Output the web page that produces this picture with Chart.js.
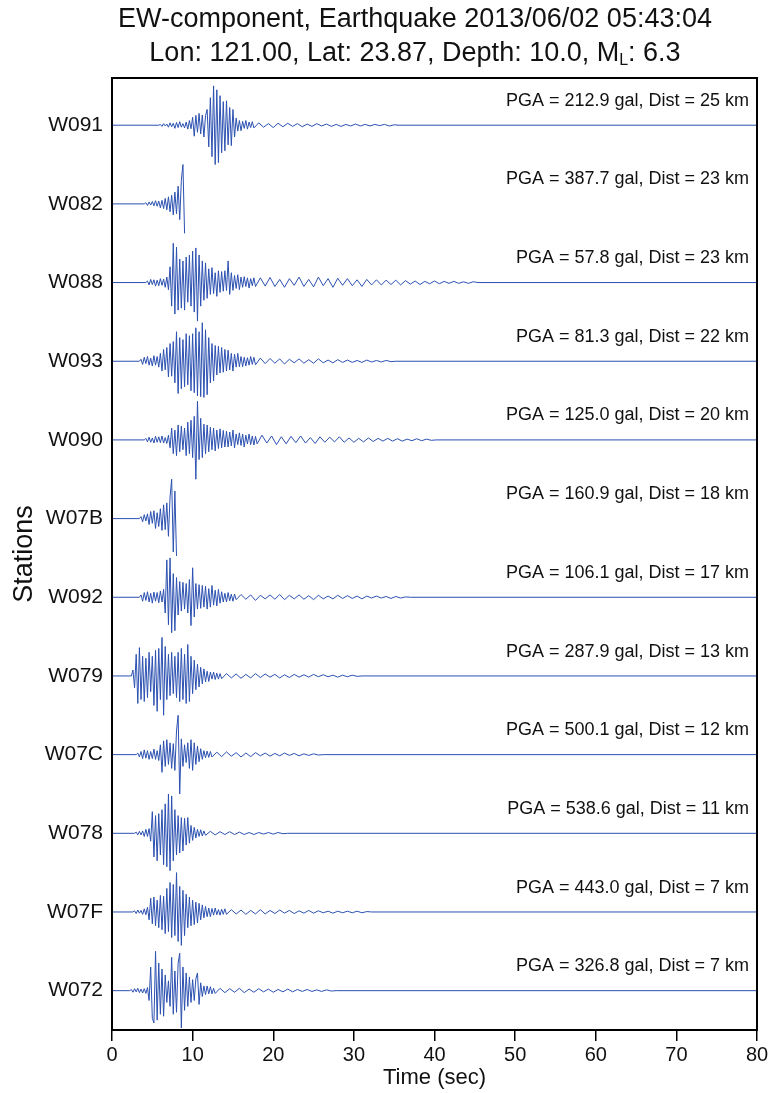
<!DOCTYPE html>
<html>
<head>
<meta charset="utf-8">
<script src="https://cdn.jsdelivr.net/npm/chart.js@4.4.1/dist/chart.umd.min.js"></script>
<style>
  html, body { margin: 0; padding: 0; background: #fff; }
  #wrap { position: relative; width: 771px; height: 1093px; }
  #title {
    position: absolute; top: 1px; left: 415px; transform: translateX(-50%);
    white-space: nowrap; text-align: center; color: #111;
    font-family: "Liberation Sans", Arial, sans-serif; font-size: 27px; line-height: 34px;
  }
  #title sub { font-size: 16px; vertical-align: -4px; line-height: 0; }
</style>
</head>
<body>
<div id="wrap">
  <canvas id="chart" width="771" height="1093"></canvas>
  <div id="title">EW-component, Earthquake 2013/06/02 05:43:04<br>Lon: 121.00, Lat: 23.87, Depth: 10.0, M<sub>L</sub>: 6.3</div>
</div>
<script>
// === EW-component records, one trace per station ===

const stations = ["W091", "W082", "W088", "W093", "W090", "W07B", "W092", "W079", "W07C", "W078", "W07F", "W072"];
const pga      = [212.9, 387.7, 57.8, 81.3, 125.0, 160.9, 106.1, 287.9, 500.1, 538.6, 443.0, 326.8];
const dist     = [25, 23, 23, 22, 20, 18, 17, 13, 12, 11, 7, 7];

// time (sec) where each trace leaves the flat pre-event line
const onset    = [5.8, 4.0, 4.2, 3.4, 4.0, 3.4, 3.4, 2.4, 3.0, 2.8, 2.6, 2.2];
// null = record stops after its last sample
const traceEnd = [80, null, 80, 80, 80, null, 80, 80, 80, 80, 80, 80];
const timeTicks = [0, 10, 20, 30, 40, 50, 60, 70, 80];

// strong-motion part, one sample every 0.2 s, % of each trace's peak
const w091Burst = [2,-3,4,-2,3,-5,6,-4,5,-8,7,-6,9,-5,4,-7,8,-10,12,-9,20,-28,25,-18,30,-22,26,-30,24,40,-55,70,-80,100,-100,90,-95,75,-70,60,-65,62,-50,45,-52,40,-30,18,-15,12,-14,10,-8,12,-10,8,-6,9,-7];
const w082Burst = [3,-4,5,-3,6,-5,8,-6,7,-10,9,-12,14,-15,18,-20,22,-28,30,-25,45,-40,60,100,-75];
const w088Burst = [4,-6,8,-5,7,-9,6,-8,10,-7,9,-12,14,-18,40,-60,100,-80,90,-70,60,-65,55,-70,65,-50,70,-60,80,-75,88,-98,70,-60,55,-45,50,-40,35,-30,38,-28,25,-35,30,-25,28,-22,30,-20,55,-30,25,-20,18,-15,20,-18,14,-12,15,-10,12,-14,10,-8,12,-10];
const w093Burst = [5,-8,10,-6,12,-10,8,-12,14,-10,12,-15,20,-25,30,-22,35,-40,45,-38,50,-55,75,-82,60,-70,55,-65,70,-60,65,-75,70,-80,85,-88,75,-90,98,-92,80,-85,60,-55,45,-50,40,-35,38,-30,35,-28,30,-25,28,-22,20,-25,18,-15,20,-14,12,-14,10,-12,9,-10,12,-8,10,-9];
const w090Burst = [4,-5,7,-6,5,-8,9,-6,8,-7,10,-8,6,-9,12,-20,30,-35,25,-40,38,-30,35,-25,30,-40,45,-35,50,-45,60,-100,98,-50,55,-45,40,-35,38,-30,32,-25,30,-28,25,-22,28,-20,24,-18,22,-18,20,-15,25,-20,15,-12,18,-14,15,-18,12,-10,15,-12,10,-13,9,-10];
const w07bBurst = [5,-8,10,-6,12,-15,18,-12,20,-25,15,-20,25,-30,35,-28,40,-45,55,100,-85,70,-95];
const w092Burst = [6,-10,12,-8,14,-12,10,-15,13,-10,12,-14,16,-12,20,-40,95,-70,100,-90,60,-85,50,-45,40,-35,38,-30,35,-40,45,-72,75,-50,35,-30,32,-28,30,-25,28,-30,22,-25,30,-20,18,-22,20,-15,14,-12,10,-12,12,-9,8,-10,8,-6];
const w079Burst = [15,-30,55,-70,72,-60,50,-65,45,-55,60,-40,50,-75,65,-90,70,-60,98,-100,75,-60,55,-50,60,-45,50,-55,60,-65,70,-60,55,-70,80,-65,50,-45,40,-35,30,-28,22,-20,18,-15,12,-14,10,-8,10,-9,7,-8,6,-7];
const w07cBurst = [4,-6,8,-10,12,-9,10,-12,8,-10,14,-12,10,-15,25,-45,35,-30,38,-25,30,-35,28,-40,60,100,-100,40,-30,25,-20,30,-35,38,-40,30,-25,22,-18,15,-12,10,-8,9,-7,8,-6];
const w078Burst = [3,-4,5,-4,6,-8,10,-8,12,-20,55,-60,45,-70,50,-55,60,-80,75,-85,100,-95,95,-70,60,-55,45,-50,40,-45,38,-30,40,-25,20,-18,15,-12,10,-8,9,-7,6,-5];
const w07fBurst = [3,-4,5,-3,4,-6,8,-7,12,-20,35,-30,38,-35,30,-40,42,-45,40,-55,60,-50,75,-65,70,-60,100,-75,65,-85,55,-60,45,-40,38,-35,30,-32,25,-28,22,-20,18,-15,14,-12,10,-12,9,-8,10,-7,6,-8,7,-6,8,-6];
const w072Burst = [3,-4,5,-3,6,-5,4,-6,5,-7,8,-25,60,-70,-82,100,-75,70,-60,55,-65,40,-30,25,-40,85,-60,50,-55,70,95,-95,60,-50,45,-40,35,-30,28,-25,30,45,-35,20,-15,12,-10,12,-8,10,-8,6,-7];

// coda, one sample every 0.6 s after the burst, % of each trace's peak
const w091Coda = [6,-5,4,-6,5,-4,5,-3,4,-4,3,-3,4,-2,3,-3,2,-3,2,-2,3,-2,2,-2,2,-1,2,-2,1,0];
const w082Coda = [];
const w088Coda = [12,-9,13,-10,8,-12,10,-7,14,-10,8,-11,14,-8,10,-12,11,-7,10,-8,7,-10,8,-6,7,-6,6,-5,6,-6,5,-4,4,-5,3,-3,4,-3,3,-2,3,-2,2,-2,2,0];
const w093Coda = [8,-6,7,-5,6,-7,5,-4,6,-5,4,-5,6,-4,3,-4,4,-3,3,-3,2,-3,3,-2,2,-2,2,-1,0];
const w090Coda = [12,-8,10,-12,8,-10,9,-7,10,-8,6,-9,8,-6,7,-5,8,-6,5,-6,4,-5,5,-4,4,-3,4,-3,3,-3,2,-2,3,-2,2,-1,0];
const w07bCoda = [];
const w092Coda = [7,-5,6,-8,5,-4,6,-5,7,-6,5,-4,6,-5,4,-6,5,-4,3,-4,5,-3,4,-3,3,-4,3,-2,3,-2,2,-3,2,-2,1,0];
const w079Coda = [6,-5,5,-6,4,-5,6,-4,5,-3,4,-5,3,-4,4,-3,3,-3,4,-2,3,-2,2,-3,2,-2,2,-1,0];
const w07cCoda = [6,-5,7,-4,5,-6,4,-5,5,-3,4,-4,3,-3,4,-2,3,-3,2,-2,2,-1,0];
const w078Coda = [5,-4,4,-3,4,-3,3,-3,2,-3,2,-2,2,-2,2,-1,0];
const w07fCoda = [6,-5,5,-6,4,-5,6,-5,4,-4,5,-3,4,-4,3,-3,4,-3,3,-2,2,-3,2,-2,2,-2,2,-2,1,0];
const w072Coda = [6,-5,5,-4,6,-5,4,-4,5,-3,4,-4,3,-3,4,-3,3,-2,3,-2,2,-2,2,-1,0];

const bursts = [w091Burst, w082Burst, w088Burst, w093Burst, w090Burst, w07bBurst, w092Burst, w079Burst, w07cBurst, w078Burst, w07fBurst, w072Burst];
const codas  = [w091Coda, w082Coda, w088Coda, w093Coda, w090Coda, w07bCoda, w092Coda, w079Coda, w07cCoda, w078Coda, w07fCoda, w072Coda];

const BURST_DT   = 0.2;
const CODA_DT    = 0.6;
const HALF_SPAN  = 0.5;   // peak of each trace, in station spacings
const TRACE_BLUE = "#2b50b0";

const baseOf = (i) => stations.length - 1 - i;

const buildTrace = (i) => {
  const base = baseOf(i);
  const pts  = [{ x: 0, y: base }, { x: onset[i], y: base }];
  const burst = bursts[i];
  burst.forEach((v, k) => pts.push({ x: onset[i] + (k + 1) * BURST_DT, y: base + v / 100 * HALF_SPAN }));
  const codaStart = onset[i] + burst.length * BURST_DT;
  codas[i].forEach((v, k) => pts.push({ x: codaStart + (k + 1) * CODA_DT, y: base + v / 100 * HALF_SPAN }));
  if (traceEnd[i] !== null) pts.push({ x: traceEnd[i], y: base });
  return pts;
};

const FONT = "'Liberation Sans', Arial, sans-serif";

const framePlugin = {
  id: "frame",
  afterDatasetsDraw(chart) {
    const { ctx, chartArea: a, scales } = chart;
    ctx.save();
    // PGA / distance notes over each trace
    ctx.fillStyle = "#111";
    ctx.font = `18px ${FONT}`;
    ctx.textAlign = "right";
    ctx.textBaseline = "middle";
    stations.forEach((s, i) => {
      const y = scales.y.getPixelForValue(baseOf(i) + 0.31);
      ctx.fillText(`PGA = ${pga[i].toFixed(1)} gal, Dist = ${dist[i]} km`, a.right - 8, y);
    });
    ctx.strokeStyle = "#000";
    ctx.lineWidth = 2;
    ctx.strokeRect(a.left, a.top, a.right - a.left, a.bottom - a.top);
    ctx.restore();
  },
};

new Chart(document.getElementById("chart"), {
  type: "line",
  data: {
    datasets: stations.map((s, i) => ({
      label: s,
      data: buildTrace(i),
      borderColor: TRACE_BLUE,
      borderWidth: 1,
      pointRadius: 0,
      tension: 0,
      fill: false,
    })),
  },
  options: {
    responsive: false,
    animation: false,
    parsing: false,
    layout: { padding: { top: 78, right: 14, bottom: 0, left: 0 } },
    plugins: { legend: { display: false }, tooltip: { enabled: false }, title: { display: false } },
    scales: {
      x: {
        type: "linear",
        min: 0,
        max: 80,
        afterFit: (scale) => { scale.height = 63; },
        afterBuildTicks: (scale) => { scale.ticks = timeTicks.map((v) => ({ value: v })); },
        ticks: { color: "#111", font: { size: 20, family: FONT }, padding: 2, maxRotation: 0 },
        grid: { drawOnChartArea: false, drawTicks: true, tickLength: 11, color: "#000", lineWidth: 1.5 },
        border: { display: false },
        title: { display: true, text: "Time (sec)", color: "#111", font: { size: 22, family: FONT }, padding: { top: 0, bottom: 2 } },
      },
      y: {
        type: "linear",
        min: -0.5,
        max: 11.6,
        afterFit: (scale) => { scale.width = 112; },
        afterBuildTicks: (scale) => { scale.ticks = stations.map((s, i) => ({ value: baseOf(i) })); },
        ticks: { color: "#111", font: { size: 21, family: FONT }, padding: 9, callback: (v) => stations[stations.length - 1 - v] },
        grid: { display: false, drawTicks: false },
        border: { display: false },
        title: { display: true, text: "Stations", color: "#111", font: { size: 27, family: FONT }, padding: { top: 8, bottom: 0 } },
      },
    },
  },
  plugins: [framePlugin],
});
</script>
</body>
</html>
